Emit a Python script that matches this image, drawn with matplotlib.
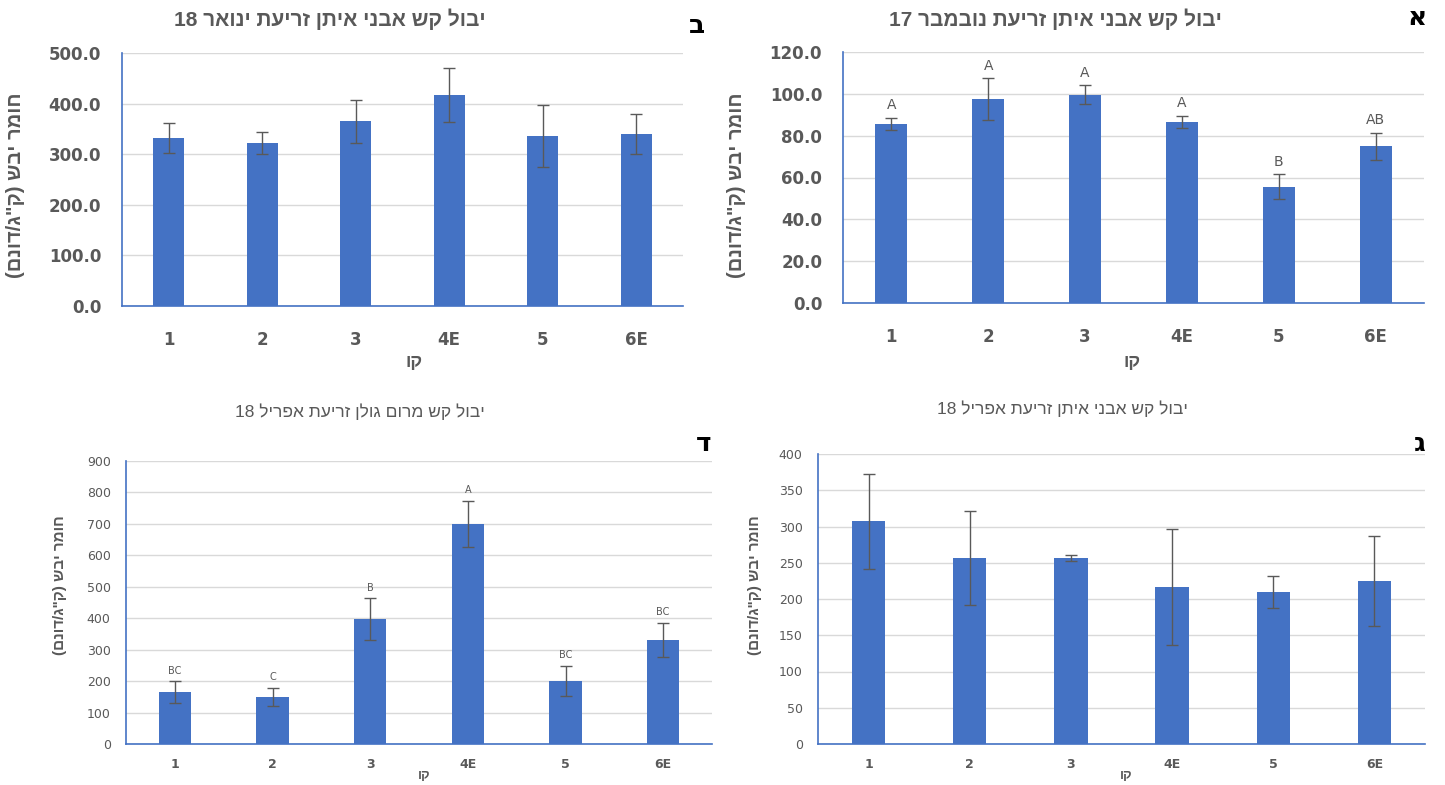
import re
import matplotlib
matplotlib.use('Agg')
import matplotlib.pyplot as plt

W, H = 1445, 785

lines = ['1', '2', '3', '4E', '5', '6E']

# panel א - November 17
nov17_vals = [85.5, 97.5, 99.5, 86.5, 55.5, 75.0]
nov17_err = [3.0, 10.0, 4.5, 3.0, 6.0, 6.5]
nov17_letters = ['A', 'A', 'A', 'A', 'B', 'AB']

# panel ב - January 18
jan18_vals = [332, 322, 365, 417, 336, 340]
jan18_err = [29, 22, 42, 53, 62, 40]

# panel ג - April 18, Avnei Eitan
apr18_ae_vals = [307, 257, 257, 217, 210, 225]
apr18_ae_err = [66, 65, 4, 80, 22, 62]

# panel ד - April 18, Merom Golan
apr18_mg_vals = [165, 150, 397, 700, 200, 331]
apr18_mg_err = [35, 28, 66, 74, 48, 55]
apr18_mg_letters = ['BC', 'C', 'B', 'A', 'BC', 'BC']

BLUE = '#4472C4'
GRAY = '#595959'
GRID = '#D9D9D9'
NARROW = ['Liberation Sans Narrow', 'Liberation Sans', 'DejaVu Sans']


def heb(s):
    # matplotlib has no bidi: reverse, keep digit/latin runs in order, mirror brackets
    r = s[::-1]
    r = re.sub(r'[0-9A-Za-z.]+', lambda m: m.group(0)[::-1], r)
    return r.translate(str.maketrans('()', ')('))


def px(l, t, r, b):
    return [l / W, 1 - b / H, (r - l) / W, (b - t) / H]


fig = plt.figure(figsize=(W / 100, H / 100), dpi=100)
ylab = heb('חומר יבש (ק"ג/דונם)')
xlab = heb('קו')


def panel(rect, vals, err, ymax, step, fmt, big, letters=None):
    ax = fig.add_axes(px(*rect))
    x = range(len(lines))
    ax.bar(x, vals, width=0.33, color=BLUE, zorder=2)
    ax.errorbar(x, vals, yerr=err, fmt='none', ecolor=GRAY, elinewidth=1,
                capsize=4, capthick=1, zorder=3)
    ax.set_xlim(-0.5, len(lines) - 0.5)
    ax.set_ylim(0, ymax)
    ticks = [i * step for i in range(int(round(ymax / step)) + 1)]
    ax.set_yticks(ticks)
    ax.set_yticklabels([fmt.format(t) for t in ticks])
    ax.set_xticks(list(x))
    ax.set_xticklabels(lines)
    ax.grid(axis='y', color=GRID, linewidth=1, zorder=0)
    for s in ['top', 'right']:
        ax.spines[s].set_visible(False)
    for s in ['left', 'bottom']:
        ax.spines[s].set_color(BLUE)
        ax.spines[s].set_linewidth(1.2)
    ax.tick_params(length=0, colors=GRAY)
    if big:
        for lab in ax.get_yticklabels() + ax.get_xticklabels():
            lab.set_fontsize(12)
            lab.set_fontweight('bold')
        ax.tick_params(axis='x', pad=18)
        ax.tick_params(axis='y', pad=15)
    else:
        for lab in ax.get_yticklabels():
            lab.set_fontsize(9)
        for lab in ax.get_xticklabels():
            lab.set_fontsize(9)
            lab.set_fontweight('bold')
        ax.tick_params(axis='x', pad=10)
        ax.tick_params(axis='y', pad=11)
    if letters:
        for i, (v, e, t) in enumerate(zip(vals, err, letters)):
            ax.annotate(t, (i, v + e), xytext=(0, 4), textcoords='offset points',
                        ha='center', va='bottom', color=GRAY,
                        fontsize=10 if big else 7)
    return ax


# top left - ב
panel((122, 53, 683, 306), jan18_vals, jan18_err, 500, 100, '{:.1f}', True)
# top right - א
panel((843, 52, 1424, 303), nov17_vals, nov17_err, 120, 20, '{:.1f}', True,
      nov17_letters)
# bottom left - ד
panel((126, 461, 712, 744), apr18_mg_vals, apr18_mg_err, 900, 100, '{:.0f}', False,
      apr18_mg_letters)
# bottom right - ג
panel((818, 454, 1425, 744), apr18_ae_vals, apr18_ae_err, 400, 50, '{:.0f}', False)


def ftext(x, y, s, **kw):
    fig.text(x / W, 1 - y / H, s, ha='center', va='center', **kw)


# titles
ftext(330, 19, heb('יבול קש אבני איתן זריעת ינואר 18'), fontsize=15,
      fontweight='bold', color=GRAY, family=NARROW)
ftext(1055, 19, heb('יבול קש אבני איתן זריעת נובמבר 17'), fontsize=15,
      fontweight='bold', color=GRAY, family=NARROW)
ftext(360, 412, heb('יבול קש מרום גולן זריעת אפריל 18'), fontsize=12.5,
      color=GRAY, family=NARROW)
ftext(1062, 409, heb('יבול קש אבני איתן זריעת אפריל 18'), fontsize=12.5,
      color=GRAY, family=NARROW)

# panel letters
ftext(697, 26, 'ב', fontsize=19, fontweight='bold', color='black')
ftext(1417, 18, 'א', fontsize=19, fontweight='bold', color='black')
ftext(704, 444, 'ד', fontsize=19, fontweight='bold', color='black')
ftext(1420, 444, 'ג', fontsize=19, fontweight='bold', color='black')

# y labels
ftext(16, 185, ylab, rotation=90, fontsize=14.5, fontweight='bold', color=GRAY,
      family=NARROW)
ftext(736, 185, ylab, rotation=90, fontsize=14.5, fontweight='bold', color=GRAY,
      family=NARROW)
ftext(60, 585, ylab, rotation=90, fontsize=11, fontweight='bold', color=GRAY,
      family=NARROW)
ftext(755, 585, ylab, rotation=90, fontsize=11, fontweight='bold', color=GRAY,
      family=NARROW)

# x labels
ftext(414, 363, xlab, fontsize=13, fontweight='bold', color=GRAY, family=NARROW)
ftext(1132, 362, xlab, fontsize=13, fontweight='bold', color=GRAY, family=NARROW)
ftext(424, 776, xlab, fontsize=9.5, fontweight='bold', color=GRAY, family=NARROW)
ftext(1126, 776, xlab, fontsize=9.5, fontweight='bold', color=GRAY, family=NARROW)

fig.savefig('out.png', dpi=100)
